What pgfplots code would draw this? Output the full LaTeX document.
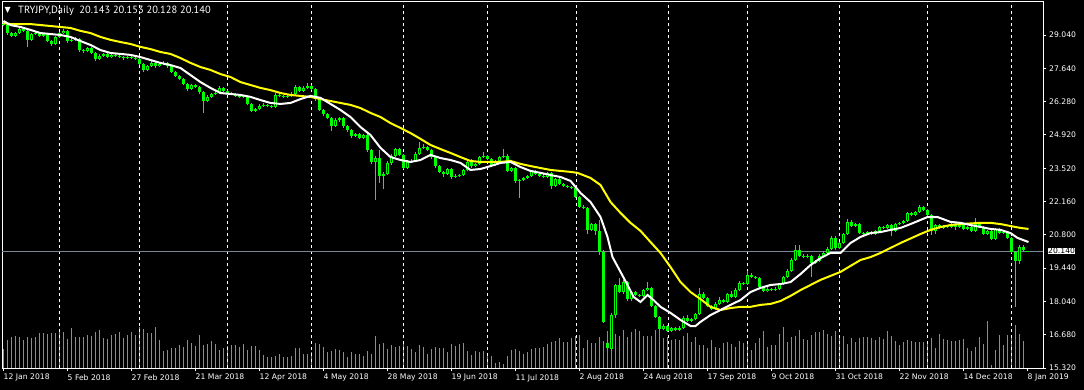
\documentclass[border=0pt]{standalone}
\usepackage{pgfplots}
\pgfplotsset{compat=1.18}
\usepackage{pgfplotstable}
\usepackage{fontspec}
\setmainfont{DejaVu Sans}
\newfontfamily\titlefont{PT Sans}
\definecolor{candle}{rgb}{0,1,0}
\definecolor{volc}{rgb}{0.196,0.804,0.196}
\definecolor{pline}{rgb}{0.467,0.533,0.600}
\definecolor{maw}{rgb}{1,1,1}
\definecolor{may}{rgb}{1,1,0}
\pgfplotstableread{
x o h l c
3 29.50 29.56 29.40 29.45
7 29.45 29.50 29.05 29.12
11 29.12 29.18 28.95 29.00
15 29.00 29.17 28.96 29.12
19 29.12 29.35 29.08 29.29
23 29.29 29.33 29.15 29.21
27 29.21 29.25 28.55 28.84
31 28.84 29.12 28.80 29.08
35 29.08 29.18 29.03 29.12
39 29.12 29.16 28.95 29.00
43 29.00 29.12 28.95 29.08
47 29.08 29.12 28.74 28.79
51 28.79 28.84 28.60 28.67
55 28.67 29.00 28.62 28.96
59 28.96 29.17 28.92 29.12
63 29.12 29.27 29.08 29.21
67 29.21 29.25 28.72 28.79
71 28.79 28.90 28.74 28.84
75 28.84 28.94 28.80 28.88
79 28.88 28.92 28.36 28.42
83 28.42 28.48 28.30 28.38
87 28.38 28.56 28.34 28.51
91 28.51 28.55 28.24 28.30
95 28.30 28.34 27.98 28.05
99 28.05 28.24 28.00 28.18
103 28.18 28.31 28.13 28.26
107 28.26 28.30 28.08 28.13
111 28.13 28.27 28.08 28.22
115 28.22 28.26 28.12 28.18
119 28.18 28.22 28.08 28.13
123 28.13 28.17 28.03 28.09
127 28.09 28.18 28.04 28.13
131 28.13 28.17 28.04 28.09
135 28.09 28.14 28.00 28.05
139 28.05 28.10 27.80 27.85
143 27.85 27.90 27.50 27.60
147 27.60 27.82 27.55 27.76
151 27.76 27.95 27.72 27.89
155 27.89 27.93 27.70 27.76
159 27.76 27.90 27.72 27.85
163 27.85 27.97 27.80 27.89
167 27.89 27.93 27.70 27.76
171 27.76 27.80 27.46 27.52
175 27.52 27.57 27.30 27.35
179 27.35 27.40 27.18 27.23
183 27.23 27.28 26.96 27.02
187 27.02 27.06 26.75 26.82
191 26.82 27.04 26.78 26.98
195 26.98 27.03 26.85 26.90
199 26.90 26.95 26.62 26.69
203 26.69 26.74 25.83 26.32
207 26.32 26.55 26.28 26.49
211 26.49 26.66 26.45 26.61
215 26.61 26.72 26.56 26.65
219 26.65 26.92 26.60 26.86
223 26.86 26.90 26.68 26.73
227 26.73 26.78 26.60 26.65
231 26.65 26.70 26.56 26.61
235 26.61 26.66 26.48 26.53
239 26.53 26.60 26.46 26.51
243 26.51 26.56 26.44 26.49
247 26.49 26.53 26.14 26.20
251 26.20 26.25 25.85 25.91
255 25.91 26.05 25.86 25.99
259 25.99 26.18 25.95 26.12
263 26.12 26.22 26.08 26.16
267 26.16 26.20 26.06 26.12
271 26.12 26.17 26.02 26.08
275 26.08 26.63 26.04 26.57
279 26.57 26.62 26.47 26.53
283 26.53 26.58 26.44 26.49
287 26.49 26.60 26.45 26.53
291 26.53 26.68 26.49 26.61
295 26.61 26.98 26.57 26.90
299 26.90 26.94 26.68 26.73
303 26.73 26.92 26.69 26.86
307 26.86 27.05 26.82 26.94
311 26.94 26.98 26.77 26.82
315 26.82 26.86 26.34 26.40
319 26.40 26.44 25.90 25.95
323 25.95 26.00 25.72 25.79
327 25.79 25.84 25.56 25.62
331 25.62 25.66 25.10 25.29
335 25.29 25.60 25.24 25.54
339 25.54 25.68 25.45 25.62
343 25.62 25.66 25.20 25.29
347 25.29 25.34 25.06 25.13
351 25.13 25.18 24.80 24.88
355 24.88 25.02 24.84 24.96
359 24.96 25.00 24.74 24.80
363 24.80 24.98 24.76 24.92
367 24.92 24.96 24.24 24.30
371 24.30 24.35 23.72 23.81
375 23.81 24.05 22.24 23.97
379 23.97 24.30 22.95 23.23
383 23.23 23.40 22.70 23.31
387 23.31 23.85 23.27 23.77
391 23.77 24.12 23.70 24.06
395 24.06 24.40 24.00 24.34
399 24.34 24.38 24.05 24.10
403 24.10 24.15 23.50 23.56
407 23.56 23.88 23.50 23.81
411 23.81 23.92 23.76 23.85
415 23.85 24.20 23.80 24.14
419 24.14 24.62 24.10 24.39
423 24.39 24.55 24.34 24.43
427 24.43 24.48 24.25 24.30
431 24.30 24.34 23.95 24.01
435 24.01 24.05 23.58 23.64
439 23.64 23.68 23.35 23.40
443 23.40 23.45 23.20 23.31
447 23.31 23.58 23.26 23.52
451 23.52 23.56 23.10 23.19
455 23.19 23.30 23.14 23.23
459 23.23 23.32 23.18 23.27
463 23.27 23.52 23.22 23.48
467 23.48 23.86 23.43 23.81
471 23.81 23.92 23.58 23.64
475 23.64 23.78 23.60 23.73
479 23.73 24.06 23.68 24.01
483 24.01 24.20 23.96 24.06
487 24.06 24.10 23.88 23.93
491 23.93 23.98 23.62 23.68
495 23.68 23.90 23.63 23.85
499 23.85 24.06 23.80 24.01
503 24.01 24.35 23.96 24.06
507 24.06 24.12 23.38 23.44
511 23.44 23.62 23.39 23.56
515 23.56 23.60 22.96 23.03
519 23.03 23.12 22.33 23.07
523 23.07 23.20 23.02 23.15
527 23.15 23.28 23.10 23.23
531 23.23 23.48 23.18 23.44
535 23.44 23.48 23.26 23.31
539 23.31 23.36 23.18 23.23
543 23.23 23.30 23.16 23.21
547 23.21 23.40 23.16 23.36
551 23.36 23.40 22.70 22.82
555 22.82 23.16 22.77 23.11
559 23.11 23.15 22.85 22.90
563 22.90 22.95 22.77 22.82
567 22.82 22.86 22.72 22.78
571 22.78 22.82 22.68 22.74
575 22.74 22.78 22.32 22.37
579 22.37 22.42 21.92 21.97
583 21.97 22.02 21.86 21.91
587 21.91 21.97 20.84 21.01
591 21.01 21.30 20.96 21.25
595 21.25 21.30 20.80 20.97
599 20.97 21.40 19.98 20.10
603 20.10 20.18 17.16 17.22
607 16.35 16.47 16.06 16.14
611 16.10 17.60 16.05 17.50
615 17.50 18.80 17.40 18.74
619 18.74 19.03 18.40 18.45
623 18.45 18.95 18.38 18.86
627 18.86 18.92 18.10 18.16
631 18.16 18.50 18.10 18.45
635 18.45 18.50 18.28 18.33
639 18.33 18.38 18.24 18.29
643 18.29 18.58 18.24 18.53
647 18.53 18.85 18.48 18.62
651 18.62 18.66 17.82 17.88
655 17.88 17.92 17.36 17.42
659 17.42 17.46 16.86 16.93
663 16.93 17.12 16.88 17.05
667 17.05 17.10 16.80 16.85
671 16.85 17.02 16.80 16.97
675 16.97 17.02 16.84 16.89
679 16.89 17.05 16.84 16.97
683 16.97 17.45 16.92 17.38
687 17.38 17.50 17.20 17.26
691 17.26 17.40 17.20 17.34
695 17.34 17.60 17.28 17.55
699 17.55 18.60 17.50 18.37
703 18.37 18.45 18.15 18.21
707 18.21 18.26 17.82 17.88
711 17.88 17.92 17.70 17.75
715 17.75 18.02 17.70 17.96
719 17.96 18.25 17.90 18.12
723 18.12 18.18 17.98 18.04
727 18.04 18.42 17.98 18.37
731 18.37 18.50 18.20 18.25
735 18.25 18.60 18.20 18.53
739 18.53 18.90 18.48 18.82
743 18.82 18.88 18.72 18.78
747 18.78 19.30 18.72 19.15
751 19.15 19.25 19.02 19.07
755 19.07 19.12 18.98 19.03
759 19.03 19.08 18.60 18.66
763 18.66 18.70 18.44 18.49
767 18.49 18.64 18.44 18.58
771 18.58 18.62 18.48 18.53
775 18.53 18.64 18.48 18.58
779 18.58 18.84 18.52 18.78
783 18.78 19.12 18.72 19.07
787 19.07 19.38 19.02 19.32
791 19.32 19.85 19.26 19.77
795 19.77 20.40 19.72 20.18
799 20.18 20.39 19.88 19.94
803 19.94 20.00 19.84 19.89
807 19.89 20.00 19.84 19.94
811 19.94 19.99 19.07 19.65
815 19.65 19.78 19.60 19.73
819 19.73 20.00 19.68 19.94
823 19.94 20.12 19.90 20.06
827 20.06 20.30 20.00 20.23
831 20.23 20.75 20.18 20.68
835 20.68 20.74 20.20 20.27
839 20.27 20.52 20.22 20.47
843 20.47 20.90 20.42 20.84
847 20.84 21.45 20.80 21.34
851 21.34 21.40 21.12 21.17
855 21.17 21.30 21.12 21.25
859 21.25 21.30 20.83 20.88
863 20.88 20.92 20.70 20.84
867 20.84 20.97 20.78 20.92
871 20.92 20.96 20.79 20.84
875 20.84 21.02 20.78 20.97
879 20.97 21.18 20.92 21.13
883 21.13 21.18 21.04 21.09
887 21.09 21.26 21.04 21.21
891 21.21 21.25 20.75 20.97
895 20.97 21.30 20.92 21.25
899 21.25 21.35 21.20 21.30
903 21.30 21.43 21.25 21.38
907 21.38 21.76 21.33 21.71
911 21.71 21.76 21.57 21.62
915 21.62 21.80 21.57 21.75
919 21.75 22.05 21.70 21.95
923 21.95 22.00 21.78 21.83
927 21.83 21.88 21.57 21.62
931 21.62 21.67 20.82 20.97
935 20.97 21.26 20.85 21.21
939 21.21 21.25 21.04 21.09
943 21.09 21.22 21.04 21.17
947 21.17 21.22 21.08 21.13
951 21.13 21.30 21.08 21.25
955 21.25 21.30 21.00 21.13
959 21.13 21.26 21.08 21.21
963 21.21 21.25 21.00 21.05
967 21.05 21.18 21.00 21.13
971 21.13 21.17 20.92 20.97
975 20.97 21.50 20.92 21.25
979 21.25 21.30 21.08 21.13
983 21.13 21.18 20.79 20.84
987 20.84 21.02 20.78 20.97
991 20.97 21.01 20.59 20.64
995 20.64 21.10 20.60 21.05
999 21.05 21.10 20.83 20.88
1003 20.88 20.98 20.84 20.92
1007 20.92 20.96 20.63 20.68
1011 20.68 20.72 20.05 20.10
1015 20.10 20.15 17.84 19.73
1019 19.73 20.40 19.60 20.31
1023 20.31 20.38 20.12 20.18
1027 20.143 20.153 20.128 20.140
}\ohlc
\pgfplotsset{common/.style={scale only axis, width=1041bp, height=366bp,
  at={(2bp,22bp)}, anchor=south west, xmin=1.5, xmax=1042.5, clip=true}}
\begin{document}
\begin{tikzpicture}
\fill[black] (0bp,0bp) rectangle (1084bp,390bp);
\useasboundingbox (0bp,0bp) rectangle (1084bp,390bp);
\begin{axis}[common, hide axis, ymin=0, ymax=354]
\addplot[draw=volc, line width=1bp, mark=none, -, quiver={u=0, v=\thisrowno{0}}] table[row sep=\\, header=false, x expr=3+4*\coordindex, y expr=0] {
18\\27\\30\\31\\30\\27\\30\\29\\30\\34\\
34\\33\\34\\34\\36\\35\\28\\39\\30\\30\\
30\\32\\31\\35\\37\\29\\28\\32\\33\\35\\
29\\32\\35\\32\\40\\38\\34\\34\\40\\27\\
16\\17\\19\\19\\22\\20\\27\\24\\21\\32\\
22\\23\\26\\23\\17\\19\\21\\22\\22\\20\\
23\\17\\21\\21\\17\\13\\11\\11\\12\\14\\
11\\11\\12\\19\\19\\14\\14\\15\\24\\23\\
20\\15\\16\\18\\17\\15\\11\\15\\14\\14\\
12\\16\\14\\31\\23\\24\\18\\22\\20\\21\\
24\\21\\18\\15\\22\\20\\14\\18\\20\\19\\
19\\15\\23\\21\\23\\24\\16\\13\\16\\15\\
16\\14\\12\\5\\6\\4\\12\\17\\18\\16\\
14\\15\\18\\19\\19\\
20\\23\\25\\26\\29\\25\\25\\29\\31\\32\\
19\\27\\24\\24\\30\\26\\36\\26\\33\\31\\
37\\30\\35\\38\\36\\31\\31\\31\\37\\37\\
29\\30\\27\\28\\27\\31\\34\\25\\30\\22\\
22\\19\\27\\20\\19\\24\\25\\23\\20\\26\\
24\\26\\17\\24\\29\\36\\20\\22\\22\\33\\
40\\25\\30\\31\\37\\28\\27\\32\\35\\35\\
37\\33\\31\\36\\31\\31\\23\\29\\25\\29\\
30\\30\\29\\27\\30\\28\\36\\31\\26\\22\\
25\\27\\26\\25\\25\\25\\26\\29\\19\\33\\
28\\27\\26\\26\\27\\28\\19\\16\\20\\30\\
23\\45\\3\\17\\32\\22\\32\\31\\42\\33\\
26\\
};
\end{axis}
\begin{axis}[common, ymin=15.32, ymax=30.40,
  axis line style={white, line width=1bp},
  tick align=outside, major tick length=3bp,
  tick style={white, line width=1bp},
  xtick pos=lower, ytick pos=upper, yticklabel pos=upper,
  ytick={15.32,16.68,18.04,19.44,20.80,22.16,23.52,24.92,26.28,27.64,29.04},
  xtick={3,67,131,195,259,323,387,451,515,579,643,707,771,835,899,963,1027},
  xticklabels={12 Jan 2018,5 Feb 2018,27 Feb 2018,21 Mar 2018,12 Apr 2018,4 May 2018,28 May 2018,19 Jun 2018,11 Jul 2018,2 Aug 2018,24 Aug 2018,17 Sep 2018,9 Oct 2018,31 Oct 2018,22 Nov 2018,14 Dec 2018,8 Jan 2019},
  tick label style={font=\fontsize{7.7}{9}\selectfont, text=white},
  xticklabel style={anchor=north west, inner sep=0pt, yshift=-3pt, xshift=0pt},
  yticklabel style={anchor=west, inner sep=0pt, xshift=3pt},
  /pgf/number format/.cd, fixed, fixed zerofill, precision=3, assume math mode=true,
  /pgfplots/.cd,
  extra x ticks={59,139,227,311,403,487,576,668,747,839,927,1011},
  extra x tick labels={},
  extra x tick style={major tick length=0pt, grid=major, major grid style={white, line width=1bp, dash pattern=on 3bp off 3bp}},
  extra y ticks={20.14}, extra y tick labels={20.140},
  extra y tick style={major tick length=0pt,
     tick label style={fill=white, text=black, inner xsep=3pt, inner ysep=1.2pt, xshift=2pt}},
]
% current price line
\addplot[draw=pline, line width=1bp, mark=none] coordinates {(1.5,20.14) (1042.5,20.14)};
% wicks: low to high
\addplot[draw=candle, line width=1bp, mark=none, -, quiver={u=0, v=\thisrow{h}-\thisrow{l}}]
  table[x=x, y=l] {\ohlc};
% bodies: open to close
\addplot[draw=candle, line width=3bp, mark=none, -, quiver={u=0, v=\thisrow{c}-\thisrow{o}}]
  table[x=x, y=o] {\ohlc};
% hollow interiors of rising candles
\addplot[draw=black, line width=1bp, mark=none, -, unbounded coords=discard,
  quiver={u=0, v=\thisrow{c}-\thisrow{o}-0.082}]
  table[x=x, y expr={(\thisrow{c}-\thisrow{o}>0.083) ? \thisrow{o}+0.041 : nan}] {\ohlc};
% yellow MA
\addplot[may, line width=2bp, mark=none] coordinates {
(3,29.53)(10,29.49)(30,29.49)(40,29.45)(50,29.41)(60,29.37)(70,29.33)(80,29.21)(90,29.12)(100,28.96)
(110,28.84)(120,28.75)(130,28.67)(140,28.55)(150,28.46)(160,28.34)(170,28.26)(180,28.09)(190,27.89)(200,27.72)
(210,27.60)(220,27.43)(230,27.31)(240,27.10)(250,26.98)(260,26.86)(270,26.77)(280,26.65)(290,26.57)(300,26.53)
(310,26.49)(320,26.40)(330,26.32)(340,26.24)(350,26.16)(360,26.03)(370,25.83)(380,25.66)(390,25.41)(400,25.21)
(410,25.00)(420,24.76)(430,24.51)(440,24.34)(450,24.18)(460,24.01)(470,23.85)(480,23.81)(490,23.81)(500,23.81)
(510,23.85)(520,23.73)(530,23.64)(540,23.56)(550,23.48)(560,23.44)(570,23.40)(577,23.36)(590,23.15)(600,22.86)
(610,22.16)(620,21.71)(630,21.30)(640,20.97)(650,20.51)(660,20.06)(670,19.48)(680,18.86)(690,18.45)(700,18.16)
(710,17.84)(720,17.71)(730,17.79)(740,17.84)(750,17.84)(760,17.92)(770,17.96)(780,18.08)(790,18.29)(800,18.53)
(820,18.95)(840,19.28)(860,19.77)(870,19.89)(880,20.06)(900,20.47)(920,20.84)(930,21.01)(940,21.13)(950,21.21)
(960,21.25)(980,21.30)(990,21.30)(1000,21.25)(1010,21.17)(1020,21.09)(1028,21.05)
};
% white MA
\addplot[maw, line width=2bp, mark=none] coordinates {
(3,29.62)(10,29.45)(20,29.37)(30,29.25)(40,29.12)(50,29.08)(60,29.04)(70,28.96)(80,28.79)(90,28.63)
(100,28.42)(110,28.30)(120,28.26)(130,28.22)(140,28.13)(150,28.01)(160,27.89)(170,27.80)(180,27.68)(190,27.39)
(200,27.10)(210,26.86)(220,26.65)(230,26.61)(240,26.57)(250,26.49)(260,26.36)(270,26.24)(280,26.20)(290,26.24)
(300,26.40)(310,26.53)(320,26.45)(330,26.20)(340,25.95)(350,25.66)(360,25.25)(370,24.92)(380,24.39)(390,24.01)
(400,23.89)(410,23.81)(420,23.89)(430,24.10)(440,23.97)(450,23.89)(460,23.77)(470,23.48)(480,23.52)(490,23.64)
(500,23.77)(510,23.81)(520,23.60)(530,23.44)(540,23.36)(550,23.27)(560,23.19)(570,23.03)(580,22.53)(590,22.16)
(600,21.54)(607,20.72)(612,19.89)(620,19.28)(627,18.74)(633,18.25)(640,18.04)(647,18.33)(653,18.12)(660,17.84)
(670,17.59)(680,17.30)(690,17.05)(695,17.05)(700,17.22)(710,17.50)(720,17.71)(730,17.92)(740,18.12)(750,18.45)
(760,18.62)(770,18.74)(780,18.78)(790,18.86)(800,19.19)(810,19.56)(820,19.85)(830,20.06)(840,20.06)(850,20.47)
(860,20.72)(870,20.88)(880,20.92)(890,21.01)(900,21.09)(910,21.25)(920,21.42)(927,21.54)(937,21.54)(950,21.34)
(960,21.30)(970,21.21)(980,21.13)(990,21.05)(1000,21.01)(1010,20.88)(1017,20.68)(1028,20.51)
};
\end{axis}
\node[anchor=west, inner sep=0pt, text=white, font=\fontsize{8}{9}\selectfont] at (4.5bp,379.5bp) {▼};
\node[anchor=west, inner sep=0pt, text=white, font=\titlefont\fontsize{10.5}{12}\selectfont] at (18bp,379bp) {TRYJPY,Daily\ \ 20.143 20.153 20.128 20.140};
\end{tikzpicture}
\end{document}
